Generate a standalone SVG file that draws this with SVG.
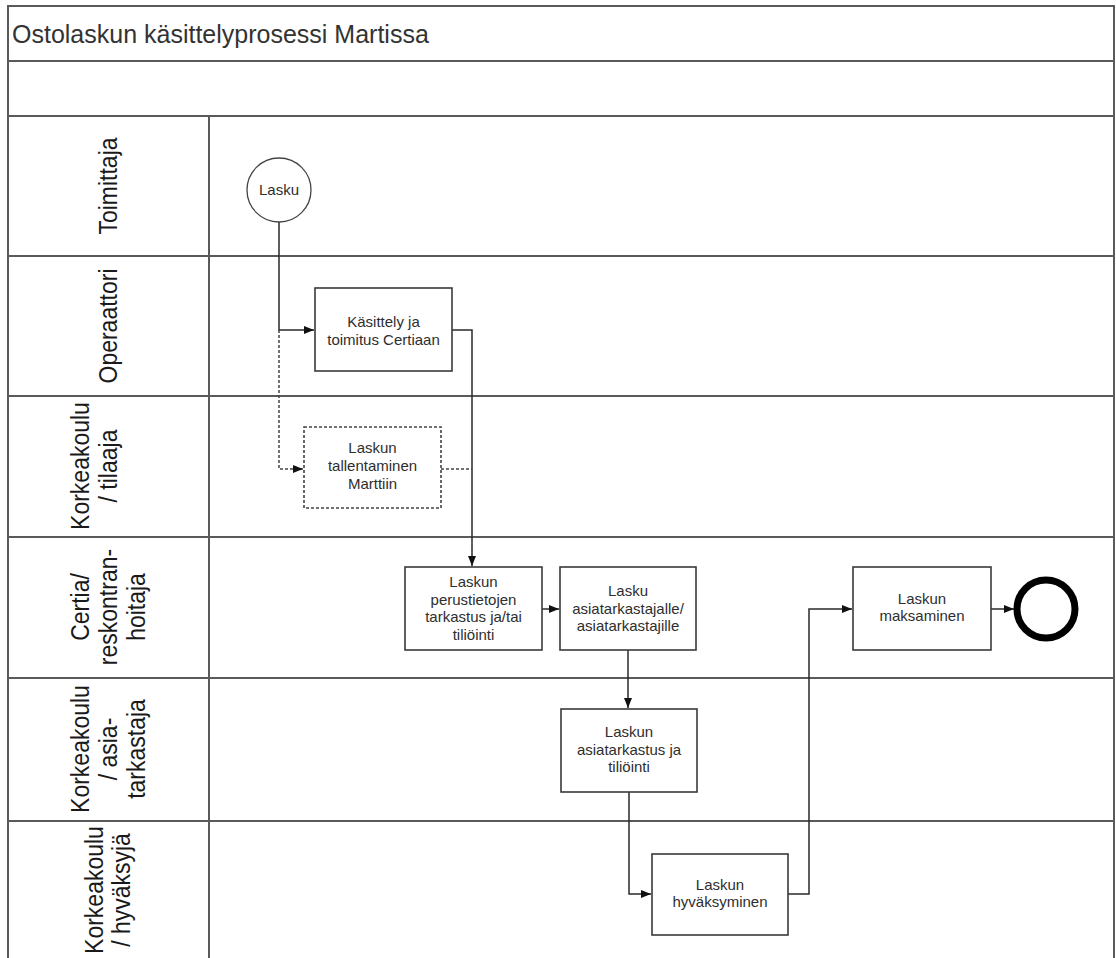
<svg xmlns="http://www.w3.org/2000/svg" width="1116" height="958" viewBox="0 0 1116 958">
<defs>
<style>
.frame{fill:none;stroke:#5a5a5a;stroke-width:2}
.box{fill:#fff;stroke:#3a3a3a;stroke-width:1.6}
.dbox{fill:#fff;stroke:#444;stroke-width:1.6;stroke-dasharray:3 2}
.con{fill:none;stroke:#2a2a2a;stroke-width:1.5}
.dcon{fill:none;stroke:#444;stroke-width:1.5;stroke-dasharray:3 2}
.title{font-family:"Liberation Sans",Arial,sans-serif;font-size:25px;fill:#333}
.lane{font-family:"Liberation Sans",Arial,sans-serif;font-size:23px;fill:#1a1a1a;text-anchor:middle}
.nt{font-family:"Liberation Sans",Arial,sans-serif;font-size:15px;fill:#2e2e2e;text-anchor:middle}
</style>
<marker id="arr" markerWidth="10" markerHeight="8" refX="10" refY="4" orient="auto" markerUnits="userSpaceOnUse">
<path d="M0,0 L10,4 L0,8 Z" fill="#111"/>
</marker>
</defs>
<rect width="1116" height="958" fill="#fff"/>
<g id="pool">
<path class="frame" d="M8,958 V6 H1114 V958"/>
<path class="frame" d="M8,61 H1114 M8,116 H1114 M8,256 H1114 M8,396 H1114 M8,537 H1114 M8,678 H1114 M8,821 H1114 M209,116 V958"/>
<text class="title" x="12" y="43">Ostolaskun käsittelyprosessi Martissa</text>
</g>
<g id="lane-toimittaja"><text class="lane" transform="translate(117,186) rotate(-90) scale(1,1.12)">Toimittaja</text></g>
<g id="lane-operaattori"><text class="lane" transform="translate(117,326) rotate(-90) scale(1,1.12)">Operaattori</text></g>
<g id="lane-tilaaja"><text class="lane" transform="translate(89,466) rotate(-90) scale(1,1.12)">Korkeakoulu</text><text class="lane" transform="translate(117,466) rotate(-90) scale(1,1.12)">/ tilaaja</text></g>
<g id="lane-certia"><text class="lane" transform="translate(89,607) rotate(-90) scale(1,1.12)">Certia/</text><text class="lane" transform="translate(117,607) rotate(-90) scale(1,1.12)">reskontran-</text><text class="lane" transform="translate(145,607) rotate(-90) scale(1,1.12)">hoitaja</text></g>
<g id="lane-asiatarkastaja"><text class="lane" transform="translate(89,749) rotate(-90) scale(1,1.12)">Korkeakoulu</text><text class="lane" transform="translate(117,749) rotate(-90) scale(1,1.12)">/ asia-</text><text class="lane" transform="translate(145,749) rotate(-90) scale(1,1.12)">tarkastaja</text></g>
<g id="lane-hyvaksyja"><text class="lane" transform="translate(103,890) rotate(-90) scale(1,1.12)">Korkeakoulu</text><text class="lane" transform="translate(130,890) rotate(-90) scale(1,1.12)">/ hyväksyjä</text></g>

<g id="connectors">
<path class="con" d="M279,222 V330 H314" marker-end="url(#arr)"/>
<path class="dcon" d="M279,330 V469 H303" marker-end="url(#arr)"/>
<path class="con" d="M452,330 H472 V566" marker-end="url(#arr)"/>
<path class="dcon" d="M441,469 H472"/>
<path class="con" d="M542,609 H559" marker-end="url(#arr)"/>
<path class="con" d="M628,649 V708" marker-end="url(#arr)"/>
<path class="con" d="M629,792 V894 H651" marker-end="url(#arr)"/>
<path class="con" d="M788,894 H809 V609 H852" marker-end="url(#arr)"/>
<path class="con" d="M991,609 H1014" marker-end="url(#arr)"/>
</g>

<g id="start-lasku">
<circle cx="279" cy="190" r="32" fill="#fff" stroke="#444" stroke-width="1.3"/>
<text class="nt" x="279" y="195">Lasku</text>
</g>
<g id="kasittely">
<rect class="box" x="315" y="288" width="137" height="83"/>
<text class="nt" x="383.5" y="327">Käsittely ja</text>
<text class="nt" x="383.5" y="344.5">toimitus Certiaan</text>
</g>
<g id="tallentaminen">
<rect class="dbox" x="304" y="427" width="137" height="81"/>
<text class="nt" x="372.5" y="453">Laskun</text>
<text class="nt" x="372.5" y="471">tallentaminen</text>
<text class="nt" x="372.5" y="489">Marttiin</text>
</g>
<g id="perustiedot">
<rect class="box" x="405" y="567" width="137" height="83"/>
<text class="nt" x="473.5" y="587">Laskun</text>
<text class="nt" x="473.5" y="604.5">perustietojen</text>
<text class="nt" x="473.5" y="622">tarkastus ja/tai</text>
<text class="nt" x="473.5" y="639.5">tiliöinti</text>
</g>
<g id="asiatarkastajalle">
<rect class="box" x="560" y="567" width="136" height="83"/>
<text class="nt" x="628" y="596">Lasku</text>
<text class="nt" x="628" y="613.5">asiatarkastajalle/</text>
<text class="nt" x="628" y="631">asiatarkastajille</text>
</g>
<g id="asiatarkastus">
<rect class="box" x="561" y="709" width="136" height="83"/>
<text class="nt" x="629" y="737">Laskun</text>
<text class="nt" x="629" y="754.5">asiatarkastus ja</text>
<text class="nt" x="629" y="772">tiliöinti</text>
</g>
<g id="hyvaksyminen">
<rect class="box" x="652" y="854" width="136" height="81"/>
<text class="nt" x="720" y="889.5">Laskun</text>
<text class="nt" x="720" y="907">hyväksyminen</text>
</g>
<g id="maksaminen">
<rect class="box" x="853" y="567" width="138" height="83"/>
<text class="nt" x="922" y="603.5">Laskun</text>
<text class="nt" x="922" y="621">maksaminen</text>
</g>
<g id="end">
<circle cx="1046" cy="609" r="29" fill="#fff" stroke="#000" stroke-width="7"/>
</g>
</svg>
